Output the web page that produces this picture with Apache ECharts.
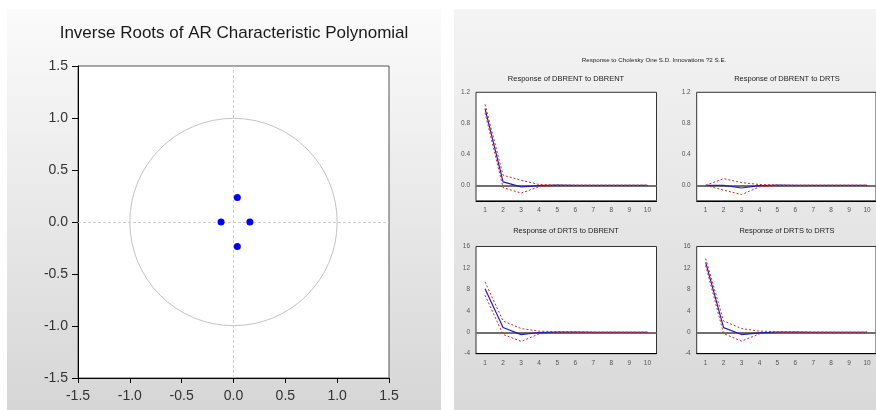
<!DOCTYPE html>
<html>
<head>
<meta charset="utf-8">
<script src="https://cdn.jsdelivr.net/npm/echarts@6/dist/echarts.min.js"></script>
<style>
html,body{margin:0;padding:0;background:#fff;}
#c{width:876px;height:410px;}
</style>
</head>
<body>
<div id="c"></div>
<script>
// ---- Data ----
// Inverse roots (real, imaginary)
const rootsRe = [0.037, 0.037, -0.120, 0.158];
const rootsIm = [0.235, -0.235, 0.000, 0.000];
const rootTicks = [-1.5, -1.0, -0.5, 0.0, 0.5, 1.0, 1.5];

// Impulse responses, periods 1..10
const periods = ['1','2','3','4','5','6','7','8','9','10'];
const dbrentToDbrent    = [0.99, 0.045, -0.020, -0.004, 0.001, 0, 0, 0, 0, 0];
const dbrentToDbrentUp  = [1.045, 0.130, 0.065, 0.010, 0.004, 0.001, 0, 0, 0, 0];
const dbrentToDbrentLo  = [0.935, -0.030, -0.100, -0.018, -0.002, -0.001, 0, 0, 0, 0];

const dbrentToDrts      = [0, 0.000, -0.035, -0.005, 0.001, 0, 0, 0, 0, 0];
const dbrentToDrtsUp    = [0, 0.086, 0.035, 0.010, 0.003, 0.001, 0, 0, 0, 0];
const dbrentToDrtsLo    = [0, -0.062, -0.120, -0.020, -0.003, -0.001, 0, 0, 0, 0];

const drtsToDbrent      = [8.1, 0.90, -0.45, -0.05, 0.02, 0.01, 0, 0, 0, 0];
const drtsToDbrentUp    = [9.4, 2.10, 0.70, 0.20, 0.12, 0.08, 0.02, 0.01, 0, 0];
const drtsToDbrentLo    = [6.9, -0.40, -1.70, -0.30, -0.08, -0.03, -0.01, 0, 0, 0];

const drtsToDrts        = [13.05, 0.86, -0.43, -0.10, 0.02, 0.01, 0, 0, 0, 0];
const drtsToDrtsUp      = [13.75, 2.10, 0.70, 0.20, 0.10, 0.05, 0.01, 0, 0, 0];
const drtsToDrtsLo      = [12.45, -0.25, -1.65, -0.30, -0.08, -0.02, 0, 0, 0, 0];

const upperTicks = [0.0, 0.4, 0.8, 1.2];
const lowerTicks = [-4, 0, 4, 8, 12, 16];

// ---- Chart ----
const chart = echarts.init(document.getElementById('c'), null, {renderer:'canvas'});

const FONT = 'Liberation Sans, Arial, sans-serif';
const blue = '#2020b0';
const red = '#d02828';

const grids = [
  {left:78, top:66, width:311, height:312},
  {left:476, top:92.3, width:180.5, height:108.5},
  {left:696.7, top:92.3, width:180.5, height:108.5},
  {left:476, top:246.5, width:180.5, height:107.2},
  {left:696.7, top:246.5, width:180.5, height:107.2}
].map(g => Object.assign({show:true, backgroundColor:'#fff', borderColor:'#333', borderWidth:1}, g));
grids[0].borderColor = '#555';

const xAxes = [{
  gridIndex:0, type:'value', min:-1.5, max:1.5, interval:0.5,
  axisLine:{onZero:false, lineStyle:{color:'#000', width:1}},
  axisTick:{length:5, lineStyle:{color:'#000'}},
  axisLabel:{fontFamily:FONT, fontSize:14, color:'#333', margin:11, formatter:v=>v.toFixed(1)},
  splitLine:{show:false}
}];
const yAxes = [{
  gridIndex:0, type:'value', min:-1.5, max:1.5, interval:0.5,
  axisLine:{onZero:false, lineStyle:{color:'#000', width:1}},
  axisTick:{length:6, lineStyle:{color:'#000'}},
  axisLabel:{fontFamily:FONT, fontSize:14, color:'#333', margin:10, formatter:v=>v.toFixed(1)},
  splitLine:{show:false}
}];
for (let i=1;i<=4;i++){
  xAxes.push({
    gridIndex:i, type:'category', data:periods, boundaryGap:true,
    axisLine:{onZero:false, lineStyle:{color:'#000', width:1}},
    axisTick:{length:3, lineStyle:{color:'#000'}},
    axisLabel:{fontFamily:FONT, fontSize:6.5, color:'#555', margin:6, interval:0}
  });
  const upper = i<=2;
  yAxes.push(upper ? {
    gridIndex:i, type:'value', min:-0.2, max:1.2,
    axisLine:{onZero:false, lineStyle:{color:'#000', width:1}},
    axisTick:{length:4, customValues:upperTicks, lineStyle:{color:'#000'}},
    axisLabel:{fontFamily:FONT, fontSize:6.5, color:'#555', margin:6, customValues:upperTicks, formatter:v=>v.toFixed(1)},
    splitLine:{show:false}
  } : {
    gridIndex:i, type:'value', min:-4, max:16, interval:4,
    axisLine:{onZero:false, lineStyle:{color:'#000', width:1}},
    axisTick:{length:4, lineStyle:{color:'#000'}},
    axisLabel:{fontFamily:FONT, fontSize:6.5, color:'#555', margin:6},
    splitLine:{show:false}
  });
}

const rootsData = rootsRe.map((r,i)=>[r, rootsIm[i]]);

const series = [
  {
    type:'custom', xAxisIndex:0, yAxisIndex:0, silent:true, z:2,
    data:[[0,0]],
    renderItem:function(params, api){
      const c = api.coord([0,0]);
      const rx = api.coord([1,0])[0]-c[0];
      return {type:'circle', shape:{cx:c[0], cy:c[1], r:rx}, style:{fill:null, stroke:'#c4c4c4', lineWidth:1}};
    }
  },
  {
    type:'scatter', xAxisIndex:0, yAxisIndex:0, z:5,
    data:rootsData, symbolSize:7, itemStyle:{color:'#0000f0', opacity:1},
    markLine:{silent:true, symbol:'none', label:{show:false},
      lineStyle:{color:'#cfcfcf', type:[3,2], width:1},
      data:[{xAxis:0},{yAxis:0}]}
  }
];

const irfs = [
  [dbrentToDbrent, dbrentToDbrentUp, dbrentToDbrentLo],
  [dbrentToDrts, dbrentToDrtsUp, dbrentToDrtsLo],
  [drtsToDbrent, drtsToDbrentUp, drtsToDbrentLo],
  [drtsToDrts, drtsToDrtsUp, drtsToDrtsLo]
];
irfs.forEach((set, k)=>{
  const gi = k+1;
  series.push({
    type:'line', xAxisIndex:gi, yAxisIndex:gi, data:set[0], symbol:'none', z:4,
    lineStyle:{color:blue, width:1.2},
    markLine:{silent:true, symbol:'none', label:{show:false}, z:3,
      lineStyle:{color:'#707070', type:'solid', width:2},
      data:[{yAxis:0}]}
  });
  [set[1], set[2]].forEach(d=>{
    series.push({
      type:'line', xAxisIndex:gi, yAxisIndex:gi, data:d, symbol:'none', z:5,
      lineStyle:{color:red, width:1, type:[2,2]}
    });
  });
});

const titleStyle = (size,color)=>({fontFamily:FONT, fontSize:size, fontWeight:'normal', color:color});
const titles = [
  {text:'Inverse Roots of AR Characteristic Polynomial', left:234, top:25, textAlign:'center', padding:0, textStyle:titleStyle(17,'#1a1a1a')},
  {text:'Response to Cholesky One S.D. Innovations ?2 S.E.', left:654, top:57, textAlign:'center', padding:0, textStyle:titleStyle(6.2,'#222')},
  {text:'Response of DBRENT to DBRENT', left:566, top:75, textAlign:'center', padding:0, textStyle:titleStyle(7.5,'#222')},
  {text:'Response of DBRENT to DRTS', left:787, top:75, textAlign:'center', padding:0, textStyle:titleStyle(7.5,'#222')},
  {text:'Response of DRTS to DBRENT', left:566, top:227, textAlign:'center', padding:0, textStyle:titleStyle(7.5,'#222')},
  {text:'Response of DRTS to DRTS', left:787, top:227, textAlign:'center', padding:0, textStyle:titleStyle(7.5,'#222')}
];

const option = {
  animation:false,
  backgroundColor:'#fff',
  graphic:[
    {type:'rect', z:-10, silent:true, shape:{x:7, y:9, width:434, height:401},
      style:{fill:new echarts.graphic.LinearGradient(0,0,0,1,[{offset:0,color:'#fbfbfb'},{offset:1,color:'#d6d6d6'}])}},
    {type:'rect', z:-10, silent:true, shape:{x:454, y:9, width:422, height:401},
      style:{fill:new echarts.graphic.LinearGradient(0,0,0,1,[{offset:0,color:'#f4f4f4'},{offset:1,color:'#d9d9d9'}])}}
  ],
  title:titles,
  grid:grids,
  xAxis:xAxes,
  yAxis:yAxes,
  series:series
};
chart.setOption(option);
</script>
</body>
</html>
